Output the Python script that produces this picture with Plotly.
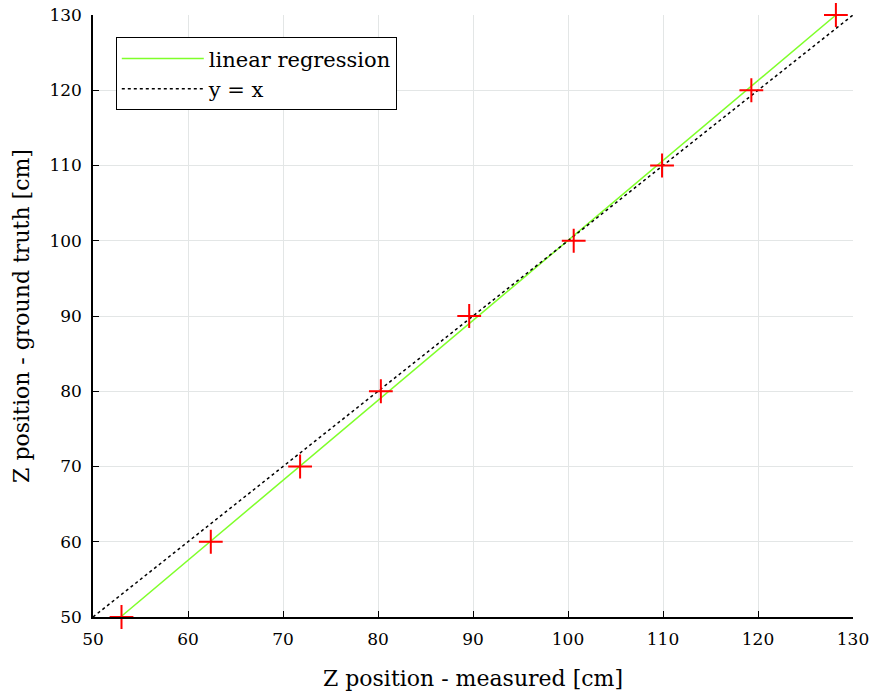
import plotly.graph_objects as go

# measured vs ground truth (cm)
measured = [53.0, 62.4, 71.8, 80.3, 89.6, 100.6, 109.9, 119.3, 128.2]
ground_truth = [50, 60, 70, 80, 90, 100, 110, 120, 130]

# linear regression line endpoints
reg_x = [52.9, 128.2]
reg_y = [50.0, 130.0]

# identity line
ident_x = [50, 130]
ident_y = [50, 130]

tick_vals = [50, 60, 70, 80, 90, 100, 110, 120, 130]

FONT = "DejaVu Serif"

fig = go.Figure()
fig.add_trace(go.Scatter(x=reg_x, y=reg_y, mode="lines", name="linear regression",
                         line=dict(color="#7fff2a", width=1.5)))
fig.add_trace(go.Scatter(x=ident_x, y=ident_y, mode="lines", name="y = x",
                         line=dict(color="black", width=1.5, dash="dot")))
fig.add_trace(go.Scatter(x=measured, y=ground_truth, mode="markers", showlegend=False,
                         cliponaxis=False,
                         marker=dict(symbol="cross-thin", size=17, color="red",
                                     line=dict(color="red", width=2))))

axis_common = dict(
    showline=True, linecolor="black", linewidth=1.5,
    ticks="inside", ticklen=6, tickcolor="black", tickwidth=1.2,
    showgrid=True, gridcolor="#e3e6e6", gridwidth=1,
    zeroline=False, tickvals=tick_vals,
    tickfont=dict(family=FONT, size=17, color="black"),
    ticklabeloverflow="allow",
    mirror=False, automargin=False,
)

fig.update_layout(
    width=872, height=692,
    margin=dict(l=93, r=19, t=15, b=75),
    paper_bgcolor="white", plot_bgcolor="white",
    font=dict(family=FONT, color="black"),
    xaxis=dict(range=[50, 130], ticklabelstandoff=6,
               title=dict(text="Z position - measured [cm]", font=dict(family=FONT, size=22), standoff=22),
               **axis_common),
    yaxis=dict(range=[50, 130], ticklabelstandoff=6,
               title=dict(text="Z position - ground truth [cm]", font=dict(family=FONT, size=22), standoff=14),
               **axis_common),
    legend=dict(x=0.03, y=0.963, xanchor="left", yanchor="top",
                bordercolor="black", borderwidth=1, bgcolor="white",
                font=dict(family=FONT, size=21, color="black"),
                itemwidth=82, tracegroupgap=0),
)

fig.write_html("out.html",
               config={"displayModeBar": False},
               post_script="document.body.style.margin='0';document.body.style.overflow='hidden';")
